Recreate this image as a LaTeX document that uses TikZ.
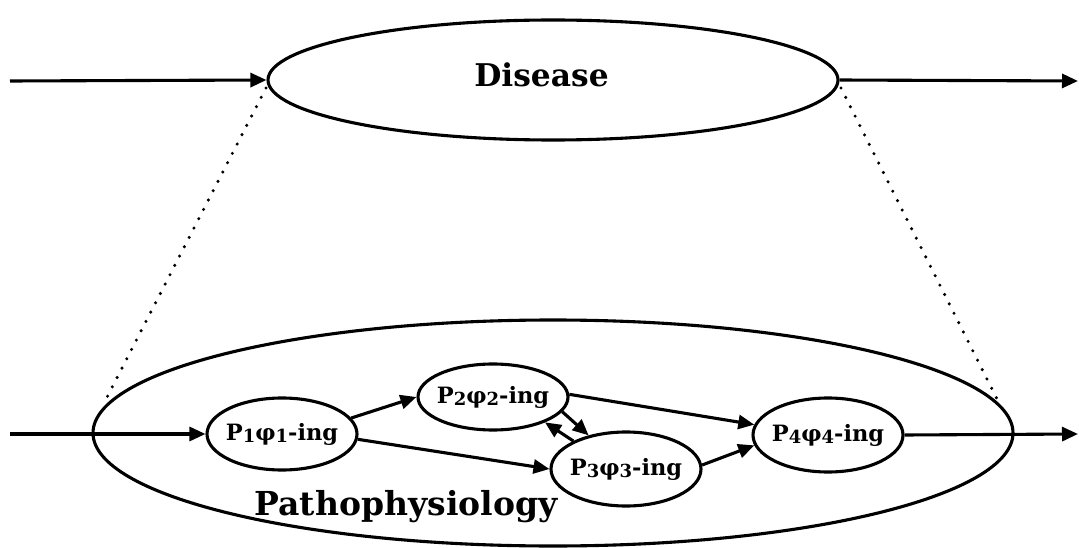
\documentclass[tikz,border=0pt]{standalone}
\usepackage{fontspec}
\setmainfont{DejaVu Serif}
\usetikzlibrary{shapes.geometric,arrows.meta}
\tikzset{
  lw/.style={line width=3.1pt},
  conn/.style={lw,-{Triangle[length=16pt,width=14pt]}},
  proc/.style={ellipse,draw,lw,inner sep=0pt,minimum width=150pt,minimum height=72pt,font=\fontsize{22.5}{26}\selectfont\bfseries},
  dots/.style={line width=3.4pt,line cap=round,dash pattern=on 0pt off 10.5pt},
}
\newcommand{\sbx}[1]{\raisebox{-2pt}{\fontsize{18}{20}\selectfont #1}}
\newcommand{\plab}[1]{\makebox[0pt]{#1}}
\begin{document}
\begin{tikzpicture}[x=1pt,y=-1pt]
\useasboundingbox (0,0) rectangle (1079,548);
% big ellipses
\node[ellipse,draw,lw,inner sep=0pt,minimum width=570pt,minimum height=120pt] (dis) at (553,80) {};
\node[anchor=base,font=\fontsize{31.3}{34}\selectfont\bfseries] (dtxt) at (541.5,87) {Disease};
\node[ellipse,draw,lw,inner sep=0pt,minimum width=920pt,minimum height=226pt] (path) at (553,433) {};
\node[anchor=base,font=\fontsize{33}{36}\selectfont\bfseries] (ptxt) at (406,515) {Pathophysiology};
% process nodes
\node[proc] (p1) at (282,434) {\plab{P\sbx{1}φ\sbx{1}-ing}};
\node[proc,minimum height=66pt] (p2) at (493,397) {\plab{P\sbx{2}φ\sbx{2}-ing}};
\node[proc,minimum height=74pt] (p3) at (626,469) {\plab{P\sbx{3}φ\sbx{3}-ing}};
\node[proc,minimum height=74pt] (p4) at (828,435) {\plab{P\sbx{4}φ\sbx{4}-ing}};
% outer coordinates
\coordinate (inL) at (10,81);
\coordinate (outR) at (1078,81);
\coordinate (inL2) at (10,434);
\coordinate (outR2) at (1078,434);
\coordinate (dl1) at (266,88);
\coordinate (dl2) at (103,405);
\coordinate (dr1) at (841,88);
\coordinate (dr2) at (1000,405);
% connectors
\draw[conn] (inL) -- (dis.west);
\draw[conn] (dis.east) -- (outR);
\draw[conn] (inL2) -- (p1.west);
\draw[conn] (p4.east) -- (outR2);
\draw[conn] (p1.13) -- (p2.180);
\draw[conn] (p1.-4) -- (p3.180);
\draw[conn] (p2.2) -- (p4.172);
\draw[conn] (p3.3) -- (p4.188);
\draw[conn] (p2.-12) -- (p3.138);
\draw[conn] (p3.152) -- (p2.-26);
\draw[dots] (dl1) -- (dl2);
\draw[dots] (dr1) -- (dr2);
\end{tikzpicture}
\end{document}
